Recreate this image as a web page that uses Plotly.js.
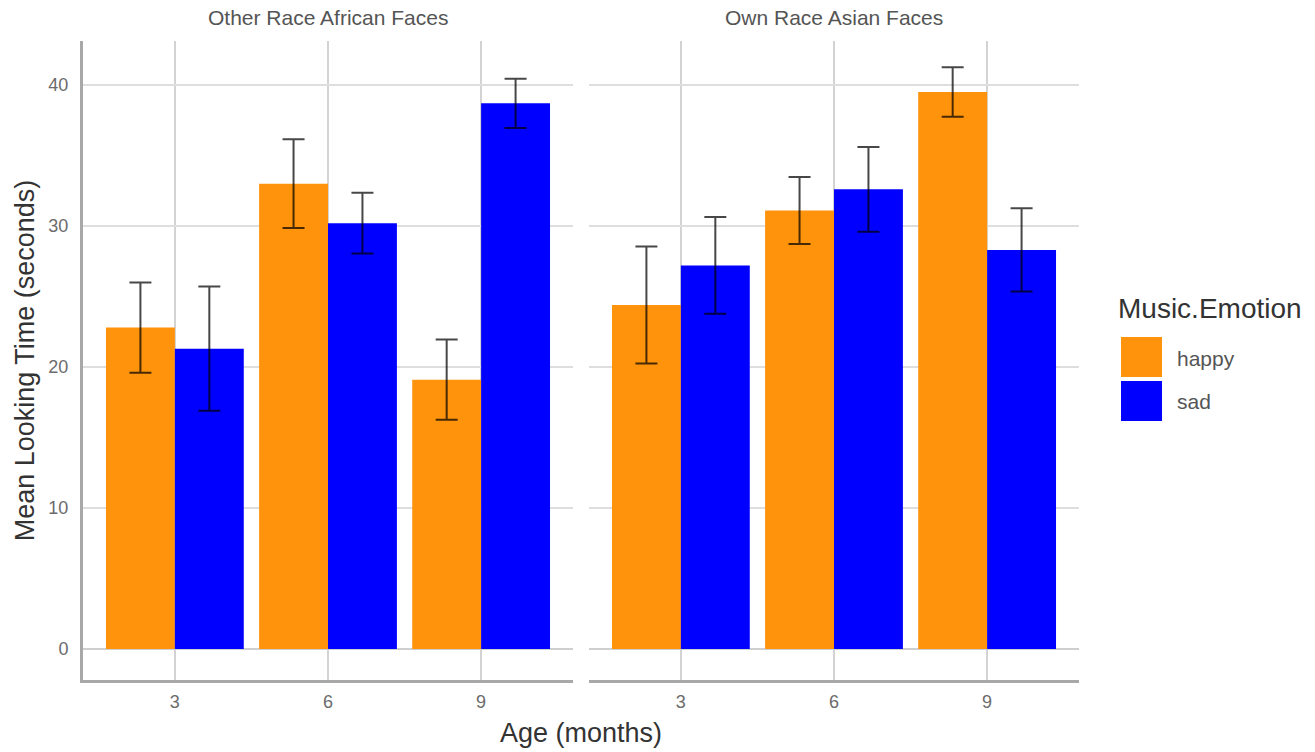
<!DOCTYPE html>
<html><head><meta charset="utf-8">
<script src="https://cdn.plot.ly/plotly-3.0.1.min.js"></script>
<style>html,body{margin:0;padding:0;background:#fff}#chart{width:1315px;height:752px}</style>
</head><body><div id="chart"></div>
<script>
// ---- data ----
const ages = ['3', '6', '9'];
const panels = ['Other Race African Faces', 'Own Race Asian Faces'];
const emotions = ['happy', 'sad'];
const emotionColors = ['#FF930B', '#0000FF'];
const otherHappy   = [22.8, 33.0, 19.1];
const otherHappySE = [3.2, 3.15, 2.85];
const otherSad     = [21.3, 30.2, 38.7];
const otherSadSE   = [4.4, 2.15, 1.75];
const ownHappy     = [24.4, 31.1, 39.5];
const ownHappySE   = [4.15, 2.37, 1.75];
const ownSad       = [27.2, 32.6, 28.3];
const ownSadSE     = [3.43, 3.0, 2.95];
const yTickVals = [0, 10, 20, 30, 40];
const legendTitle = 'Music.Emotion';
const xTitle = 'Age (months)';
const yTitle = 'Mean Looking Time (seconds)';

// ---- layout helpers ----
const W = 1315, H = 752;
const px = v => v / W, py = v => 1 - v / H;
const FONT = 'Liberation Sans, Arial, sans-serif';
const panelDomains = [[px(83), px(573)], [px(589), px(1079)]];
const yDomain = [py(680), py(41)];
const yRange = [-2.2, 43.12];

const seriesByPanel = [
  [[otherHappy, otherHappySE], [otherSad, otherSadSE]],
  [[ownHappy, ownHappySE], [ownSad, ownSadSE]]
];

const traces = [];
seriesByPanel.forEach((panel, p) => {
  panel.forEach(([vals, se], e) => {
    traces.push({
      type: 'bar', x: ages, y: vals, name: emotions[e],
      xaxis: p === 0 ? 'x' : 'x2', yaxis: p === 0 ? 'y' : 'y2',
      marker: {color: emotionColors[e], line: {width: 0}},
      error_y: {type: 'data', array: se, visible: true, color: 'rgba(0,0,0,0.72)', thickness: 2, width: 11},
      showlegend: false, hoverinfo: 'x+y'
    });
  });
});

const xBase = {
  type: 'category', range: [-0.6, 2.6], showgrid: true, gridcolor: '#d3d3d3', gridwidth: 2,
  showline: true, linecolor: '#a8a8a8', linewidth: 3, ticks: '', zeroline: false,
  tickfont: {family: FONT, size: 18, color: '#6b6b6b'}, ticklabelstandoff: 3, fixedrange: true
};
const yBase = {
  range: yRange, domain: yDomain, tickvals: yTickVals, showgrid: true, gridcolor: '#dedede', gridwidth: 2,
  zeroline: true, zerolinecolor: '#cfcfcf', zerolinewidth: 2, ticks: '', fixedrange: true
};

const shapes = [], annotations = [];
// strip titles
panels.forEach((t, p) => {
  annotations.push({text: t, xref: 'paper', yref: 'paper', x: (panelDomains[p][0] + panelDomains[p][1]) / 2,
    y: py(18), xanchor: 'center', yanchor: 'middle', showarrow: false,
    font: {family: FONT, size: 21, color: '#555'}});
});
// shared x-axis title
annotations.push({text: xTitle, xref: 'paper', yref: 'paper', x: (panelDomains[0][0] + panelDomains[1][1]) / 2,
  y: py(733), xanchor: 'center', yanchor: 'middle', showarrow: false,
  font: {family: FONT, size: 27, color: '#333'}});
// legend
annotations.push({text: legendTitle, xref: 'paper', yref: 'paper', x: px(1116), y: py(309),
  xanchor: 'left', yanchor: 'middle', showarrow: false, font: {family: FONT, size: 28, color: '#333'}});
emotions.forEach((name, i) => {
  const top = 337 + i * 44;
  shapes.push({type: 'rect', xref: 'paper', yref: 'paper', x0: px(1121), x1: px(1162), y0: py(top + 40), y1: py(top),
    fillcolor: emotionColors[i], line: {width: 0}});
  annotations.push({text: name, xref: 'paper', yref: 'paper', x: px(1175), y: py(top + 21),
    xanchor: 'left', yanchor: 'middle', showarrow: false, font: {family: FONT, size: 21, color: '#555'}});
});

const layout = {
  width: W, height: H, margin: {l: 0, r: 0, t: 0, b: 0},
  paper_bgcolor: '#fff', plot_bgcolor: '#fff', font: {family: FONT},
  barmode: 'group', bargap: 0.1, bargroupgap: 0, showlegend: false,
  xaxis: Object.assign({}, xBase, {domain: panelDomains[0], anchor: 'y'}),
  xaxis2: Object.assign({}, xBase, {domain: panelDomains[1], anchor: 'y2'}),
  yaxis: Object.assign({}, yBase, {anchor: 'x', showline: true, linecolor: '#a8a8a8', linewidth: 3,
    tickfont: {family: FONT, size: 18, color: '#6b6b6b'}, ticklabelstandoff: 8,
    title: {text: yTitle, font: {family: FONT, size: 27, color: '#333'}, standoff: 6}}),
  yaxis2: Object.assign({}, yBase, {anchor: 'x2', showline: false, showticklabels: false}),
  shapes: shapes, annotations: annotations
};

Plotly.newPlot('chart', traces, layout, {displayModeBar: false, staticPlot: true});
</script></body></html>
